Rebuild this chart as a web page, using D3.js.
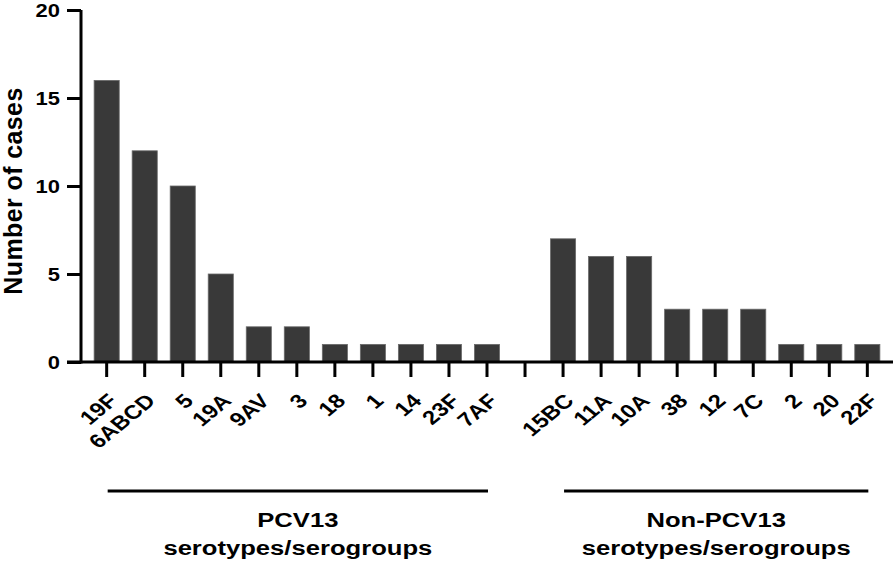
<!DOCTYPE html>
<html>
<head>
<meta charset="utf-8">
<script src="https://cdn.jsdelivr.net/npm/d3@7"></script>
<style>
  html, body { margin: 0; padding: 0; background: #fff; }
  svg { display: block; font-family: "Liberation Sans", Arial, sans-serif; }
</style>
</head>
<body>
<svg id="chart" width="896" height="563"></svg>
<script>
// ---- data ----
const categories = ["19F","6ABCD","5","19A","9AV","3","18","1","14","23F","7AF","",
                    "15BC","11A","10A","38","12","7C","2","20","22F"];
const values     = [16,12,10,5,2,2,1,1,1,1,1,null,
                    7,6,6,3,3,3,1,1,1];
const yTicks = [0,5,10,15,20];
const yLabel = "Number of cases";
const groupLine1 = ["PCV13", "Non-PCV13"];
const groupLine2 = ["serotypes/serogroups", "serotypes/serogroups"];
const groupStart = ["19F", "15BC"];
const groupEnd   = ["7AF", "22F"];

// ---- layout ----
const svg = d3.select("#chart");
const x0 = 81, x1 = 893, yTop = 10, yBase = 362;
const SX = 1.22; // horizontal text stretch seen in the reference

const x = d3.scaleBand().domain(categories).range([x0, x1])
  .paddingInner(0.34).paddingOuter(0.345);
const y = d3.scaleLinear().domain([0, 20]).range([yBase, yTop]);

// bars
const barData = categories.map((c, i) => ({c, v: values[i]})).filter(d => d.v != null);
svg.append("g").selectAll("rect").data(barData).join("rect")
  .attr("x", d => x(d.c))
  .attr("y", d => y(d.v))
  .attr("width", x.bandwidth())
  .attr("height", d => y(0) - y(d.v))
  .attr("fill", "#393939")
  .attr("stroke", "#6a6a6a")
  .attr("stroke-width", 0.8);

// y axis
const yAxis = svg.append("g").attr("transform", `translate(${x0},0)`)
  .call(d3.axisLeft(y).tickValues(yTicks).tickSize(14).tickSizeOuter(0).tickFormat(""));
yAxis.select(".domain").attr("stroke", "#000").attr("stroke-width", 3)
  .attr("d", `M0,${yTop}V${yBase + 1.5}`);
yAxis.selectAll(".tick line").attr("stroke", "#000").attr("stroke-width", 3);
yAxis.selectAll(".tick").append("text")
  .attr("transform", `translate(-21,0) scale(${SX},1)`)
  .attr("text-anchor", "end")
  .attr("dy", "0.35em")
  .attr("font-size", 18).attr("font-weight", "bold")
  .attr("fill", "#000")
  .text(d => d);

// x axis
const xAxis = svg.append("g").attr("transform", `translate(0,${yBase})`)
  .call(d3.axisBottom(x).tickSize(15).tickSizeOuter(0).tickFormat(""));
xAxis.select(".domain").attr("stroke", "#000").attr("stroke-width", 3)
  .attr("d", `M${x0 - 14},0H${x1}`);
xAxis.selectAll(".tick line").attr("stroke", "#000").attr("stroke-width", 3);

// rotated category labels
svg.append("g").selectAll("text").data(categories.filter(c => c !== "")).join("text")
  .attr("transform", d => `translate(${x(d) + x.bandwidth() / 2 + 12},${yBase + 40}) scale(${SX},1) rotate(-45)`)
  .attr("text-anchor", "end")
  .attr("font-size", 19.5)
  .attr("font-weight", "bold")
  .attr("fill", "#000")
  .text(d => d);

// y label
svg.append("text")
  .attr("transform", `translate(22,191) rotate(-90)`)
  .attr("text-anchor", "middle")
  .attr("font-size", 25)
  .attr("font-weight", "bold")
  .attr("letter-spacing", 0.4)
  .attr("fill", "#000")
  .text(yLabel);

// group brackets
groupLine1.forEach((name, i) => {
  const gx0 = x(groupStart[i]) + x.bandwidth() / 2;
  const gx1 = x(groupEnd[i]) + x.bandwidth() / 2;
  svg.append("line")
    .attr("x1", gx0 + 1).attr("x2", gx1 + 1)
    .attr("y1", 491).attr("y2", 491)
    .attr("stroke", "#000").attr("stroke-width", 3);
  const cx = (gx0 + gx1) / 2 + 1;
  svg.append("text")
    .attr("transform", `translate(${cx},527) scale(${SX},1)`)
    .attr("text-anchor", "middle")
    .attr("font-size", 21).attr("font-weight", "bold")
    .attr("fill", "#000")
    .text(name);
  svg.append("text")
    .attr("transform", `translate(${cx},555) scale(${SX},1)`)
    .attr("text-anchor", "middle")
    .attr("font-size", 21).attr("font-weight", "bold")
    .attr("fill", "#000")
    .text(groupLine2[i]);
});
</script>
</body>
</html>
